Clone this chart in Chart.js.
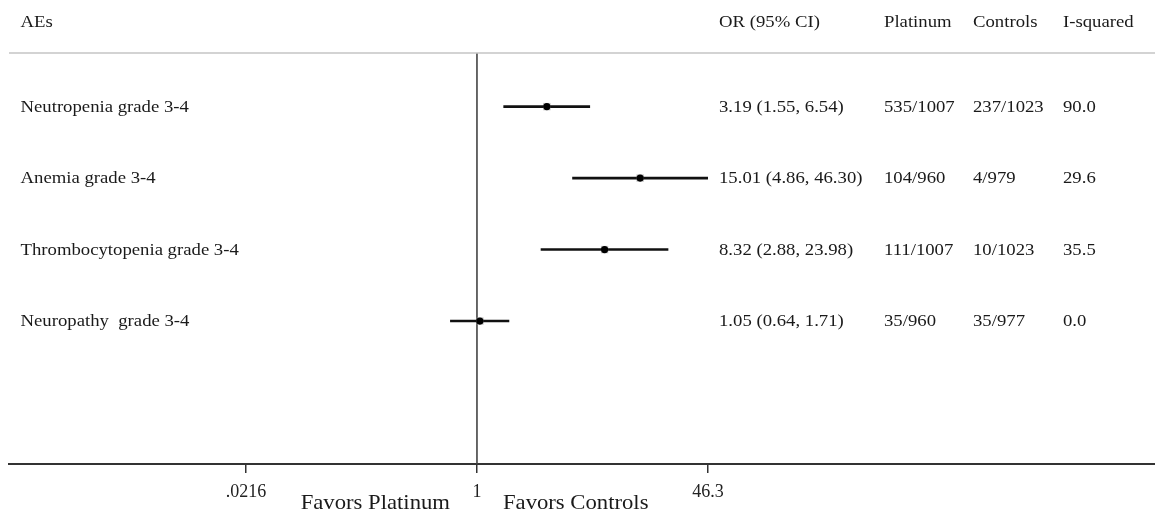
<!DOCTYPE html>
<html>
<head>
<meta charset="utf-8">
<script src="https://cdn.jsdelivr.net/npm/chart.js@4/dist/chart.umd.min.js"></script>
<style>
  html, body { margin: 0; padding: 0; background: #fff; }
  canvas { display: block; }
</style>
</head>
<body>
<canvas id="forest" width="1155" height="512"></canvas>
<script>
// Forest plot data
const aeLabels = ['Neutropenia grade 3-4', 'Anemia grade 3-4', 'Thrombocytopenia grade 3-4', 'Neuropathy  grade 3-4'];
const orValues = [3.19, 15.01, 8.32, 1.05];
const ciLow = [1.55, 4.86, 2.88, 0.64];
const ciHigh = [6.54, 46.30, 23.98, 1.71];
const platinumCounts = ['535/1007', '104/960', '111/1007', '35/960'];
const controlCounts = ['237/1023', '4/979', '10/1023', '35/977'];
const iSquared = [90.0, 29.6, 35.5, 0.0];
const tickValues = [0.0216, 1, 46.3];
const tickLabels = ['.0216', '1', '46.3'];
const headers = ['AEs', 'OR (95% CI)', 'Platinum', 'Controls', 'I-squared'];

const X_MIN = 0.000423, X_MAX = 77300;
const Y_MIN = -0.75, Y_MAX = 5;
const SERIF = '"Liberation Serif", "Times New Roman", serif';

// one line per confidence interval
const ciSets = aeLabels.map((name, i) => ({
    type: 'line',
    label: name,
    data: [{ x: ciLow[i], y: i }, { x: ciHigh[i], y: i }],
    borderColor: '#111',
    borderWidth: 2.6,
    pointRadius: 0,
    order: 3
}));

// text columns drawn next to the plot
const tablePlugin = {
    id: 'tableText',
    afterDraw(chart) {
        const { ctx, chartArea, scales } = chart;
        const y = scales.y, x = scales.x;
        const cols = [20.5, 719, 884, 973, 1063];

        function put(text, px, py, size, stretch) {
            ctx.save();
            ctx.translate(px, py);
            ctx.scale(stretch, 1);
            ctx.font = size + 'px ' + SERIF;
            ctx.fillText(text, 0, 0);
            ctx.restore();
        }

        ctx.save();
        ctx.fillStyle = '#1a1a1a';
        ctx.textBaseline = 'middle';
        ctx.textAlign = 'left';

        // top rule under the header
        ctx.strokeStyle = '#c4c4c4';
        ctx.lineWidth = 1.5;
        ctx.beginPath();
        ctx.moveTo(chartArea.left, chartArea.top);
        ctx.lineTo(chartArea.right, chartArea.top);
        ctx.stroke();

        headers.forEach((h, k) => put(h, cols[k], 23, 16, 1.17));

        aeLabels.forEach((name, i) => {
            const py = y.getPixelForValue(i) + 1;
            const orText = orValues[i].toFixed(2) + ' (' + ciLow[i].toFixed(2) + ', ' + ciHigh[i].toFixed(2) + ')';
            put(name, cols[0], py, 16, 1.17);
            put(orText, cols[1], py, 16, 1.17);
            put(platinumCounts[i], cols[2], py, 16, 1.17);
            put(controlCounts[i], cols[3], py, 16, 1.17);
            put(iSquared[i].toFixed(1), cols[4], py, 16, 1.17);
        });

        // favours labels either side of the null line
        const one = x.getPixelForValue(1);
        ctx.textBaseline = 'alphabetic';
        ctx.font = '21px ' + SERIF;
        const w1 = ctx.measureText('Favors Platinum').width * 1.08;
        put('Favors Platinum', one - 27 - w1, 509, 21, 1.08);
        put('Favors Controls', one + 26, 509, 21, 1.08);
        ctx.restore();
    }
};

new Chart(document.getElementById('forest'), {
    type: 'scatter',
    data: {
        datasets: [
            {
                label: 'OR',
                data: orValues.map((v, i) => ({ x: v, y: i })),
                pointStyle: 'circle',
                pointRadius: 3.6,
                backgroundColor: '#000',
                borderColor: '#000',
                borderWidth: 0,
                order: 1
            },
            {
                label: 'weight',
                data: orValues.map((v, i) => ({ x: v, y: i })),
                pointStyle: 'rect',
                pointRadius: 5.2,
                backgroundColor: 'rgba(140,140,140,0.55)',
                borderWidth: 0,
                order: 2
            },
            ...ciSets,
            {
                type: 'line',
                label: 'null',
                data: [{ x: 1, y: Y_MIN }, { x: 1, y: Y_MAX }],
                borderColor: '#444',
                borderWidth: 1.6,
                pointRadius: 0,
                order: 4
            }
        ]
    },
    options: {
        responsive: false,
        animation: false,
        layout: { autoPadding: false, padding: { top: 53, left: 9, right: 0, bottom: 0 } },
        plugins: {
            legend: { display: false },
            tooltip: { enabled: false }
        },
        scales: {
            x: {
                type: 'logarithmic',
                position: 'bottom',
                min: X_MIN,
                max: X_MAX,
                bounds: 'data',
                afterBuildTicks(scale) {
                    scale.ticks = tickValues.map(v => ({ value: v }));
                },
                afterFit(scale) {
                    scale.height = 48;
                },
                ticks: {
                    autoSkip: false,
                    maxRotation: 0,
                    padding: 8,
                    color: '#222',
                    font: { family: SERIF, size: 18 },
                    callback: (v) => {
                        const k = tickValues.indexOf(v);
                        return k >= 0 ? tickLabels[k] : '';
                    }
                },
                grid: {
                    display: true,
                    drawOnChartArea: false,
                    drawTicks: true,
                    tickLength: 9,
                    color: '#333',
                    lineWidth: 1.5
                },
                border: { display: true, color: '#333', width: 2 }
            },
            y: {
                type: 'linear',
                display: false,
                reverse: true,
                min: Y_MIN,
                max: Y_MAX
            }
        }
    },
    plugins: [tablePlugin]
});
</script>
</body>
</html>
